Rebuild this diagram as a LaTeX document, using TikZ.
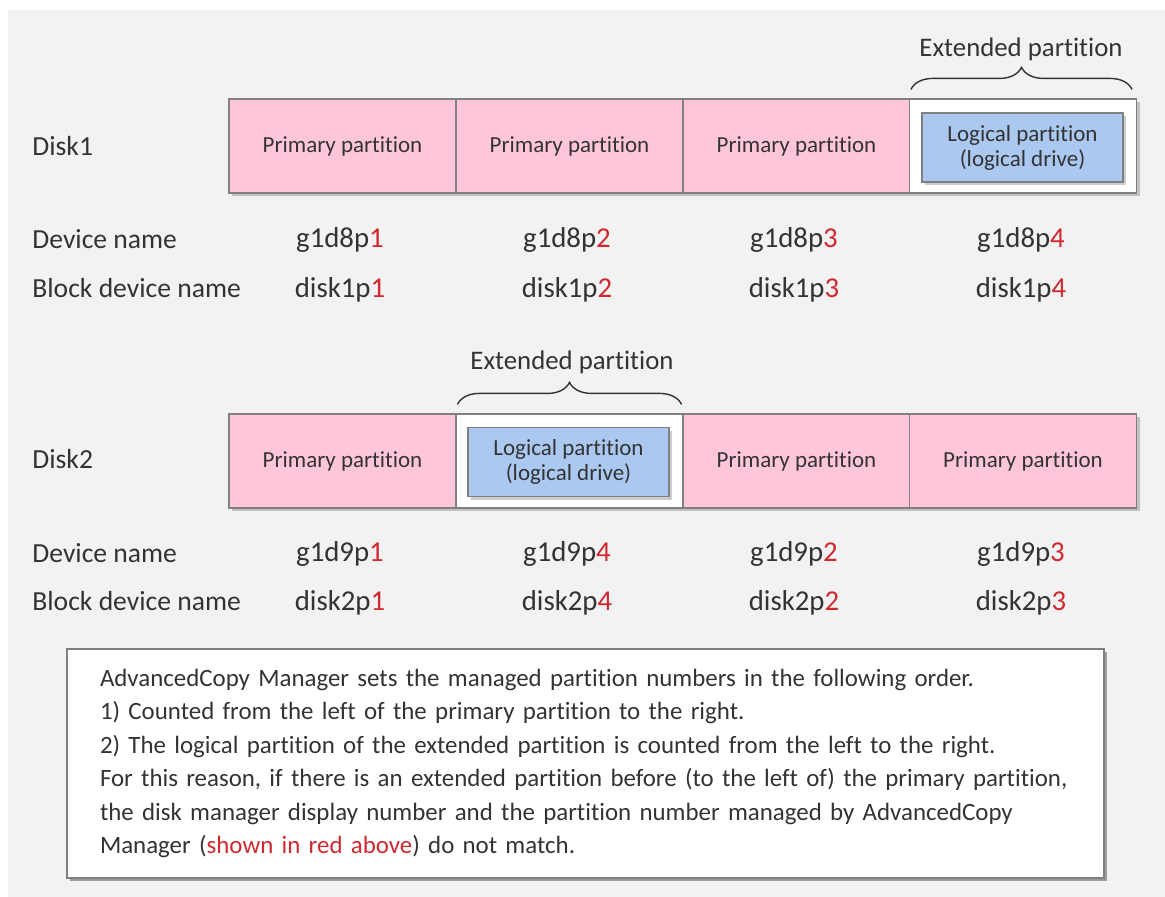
\documentclass[tikz,border=0pt]{standalone}
\usepackage{fontspec}
\setmainfont{Carlito}[Ligatures=NoCommon]
\usepackage{xcolor}
\definecolor{ptpink}{HTML}{FFC6DA}
\definecolor{ldblue}{HTML}{AAC8F0}
\definecolor{pnred}{HTML}{D0282E}
\definecolor{pgray}{HTML}{F2F2F2}
\definecolor{edgegray}{HTML}{808080}
\definecolor{txtgray}{HTML}{333333}
\usetikzlibrary{positioning, shadows, decorations.pathreplacing}
\newcommand{\rn}[1]{\textcolor{pnred}{#1}}

\begin{document}
\begin{tikzpicture}[
  x=0.5pt, y=-0.5pt,
  shd/.style={drop shadow={shadow xshift=1.5pt, shadow yshift=-1.5pt, opacity=.2, fill=black}},
  cell/.style={draw=edgegray, line width=0.6pt, minimum width=113.5pt, minimum height=47pt,
               inner sep=0pt, font=\fontsize{11.5}{13}\selectfont, text=txtgray, shd},
  prim/.style={cell, fill=ptpink},
  extp/.style={cell, fill=white},
  logi/.style={draw=edgegray, line width=0.6pt, fill=ldblue, minimum width=100.5pt,
               minimum height=34.5pt, inner sep=0pt, align=center,
               font=\fontsize{11.5}{12.5}\selectfont, text=txtgray, shd},
  lbl/.style={anchor=west, inner sep=0pt, font=\fontsize{13.8}{16}\selectfont, text=txtgray},
  val/.style={inner sep=0pt, font=\fontsize{14.4}{17}\selectfont, text=txtgray},
  extlbl/.style={inner sep=0pt, font=\fontsize{13.4}{16}\selectfont, text=txtgray},
  brc/.style={decorate, decoration={brace, amplitude=11pt}, draw=txtgray, line width=0.7pt},
  notebox/.style={draw=edgegray, line width=0.8pt, fill=white, text width=485.5pt,
                  inner xsep=16.5pt, minimum height=114.5pt, align=left,
                  font=\fontsize{12.45}{16.75}\selectfont, text=txtgray,
                  drop shadow={shadow xshift=1.5pt, shadow yshift=-1.5pt, opacity=.35, fill=black}},
]
  \useasboundingbox (0,0) rectangle (1165,896);
  \fill[white] (-5,-5) rectangle (1175,905);
  \fill[pgray] (8,10) rectangle (1175,905);

  % Disk1
  \node[lbl] (d1) at (32,146) {Disk1};
  \node[prim] (d1c1) at (342.5,146) {Primary partition};
  \node[prim] (d1c2) at (569.5,146) {Primary partition};
  \node[prim] (d1c3) at (796.5,146) {Primary partition};
  \node[extp] (d1c4) at (1023,146) {};
  \node[logi] (d1l) at (1022.5,147.5) {Logical partition\\(logical drive)};
  \draw[brc] ([xshift=1pt,yshift=4.5pt]d1c4.north west) -- ([xshift=-2.5pt,yshift=4.5pt]d1c4.north east);
  \node[extlbl] (d1x) at (1021,49) {Extended partition};

  \node[lbl] (d1dn) at (32,239) {Device name};
  \node[lbl] (d1bn) at (32,288) {Block device name};
  \node[val] (d1v1) at (340,240) {g1d8p\rn{1}};
  \node[val] (d1v2) at (567,240) {g1d8p\rn{2}};
  \node[val] (d1v3) at (794,240) {g1d8p\rn{3}};
  \node[val] (d1v4) at (1021,240) {g1d8p\rn{4}};
  \node[val] (d1b1) at (340,290) {disk1p\rn{1}};
  \node[val] (d1b2) at (567,290) {disk1p\rn{2}};
  \node[val] (d1b3) at (794,290) {disk1p\rn{3}};
  \node[val] (d1b4) at (1021,290) {disk1p\rn{4}};

  % Disk2
  \node[lbl] (d2) at (32,459) {Disk2};
  \node[prim] (d2c1) at (342.5,461) {Primary partition};
  \node[extp] (d2c2) at (569.5,461) {};
  \node[prim] (d2c3) at (796.5,461) {Primary partition};
  \node[prim] (d2c4) at (1023,461) {Primary partition};
  \node[logi] (d2l) at (568.5,462) {Logical partition\\(logical drive)};
  \draw[brc] ([xshift=1pt,yshift=4.5pt]d2c2.north west) -- ([xshift=-1pt,yshift=4.5pt]d2c2.north east);
  \node[extlbl] (d2x) at (572,362) {Extended partition};

  \node[lbl] (d2dn) at (32,553) {Device name};
  \node[lbl] (d2bn) at (32,601) {Block device name};
  \node[val] (d2v1) at (340,554) {g1d9p\rn{1}};
  \node[val] (d2v2) at (567,554) {g1d9p\rn{4}};
  \node[val] (d2v3) at (794,554) {g1d9p\rn{2}};
  \node[val] (d2v4) at (1021,554) {g1d9p\rn{3}};
  \node[val] (d2b1) at (340,603) {disk2p\rn{1}};
  \node[val] (d2b2) at (567,603) {disk2p\rn{4}};
  \node[val] (d2b3) at (794,603) {disk2p\rn{2}};
  \node[val] (d2b4) at (1021,603) {disk2p\rn{3}};

  % note
  \node[notebox] (note) at (585.5,763.5) {\hyphenpenalty=10000 AdvancedCopy Manager sets the managed partition numbers in the following order.\\
    1) Counted from the left of the primary partition to the right.\\
    2) The logical partition of the extended partition is counted from the left to the right.\\
    For this reason, if there is an extended partition before (to the left of) the primary partition,\\
    the disk manager display number and the partition number managed by AdvancedCopy\\
    Manager (\rn{shown in red above}) do not match.};
\end{tikzpicture}
\end{document}
